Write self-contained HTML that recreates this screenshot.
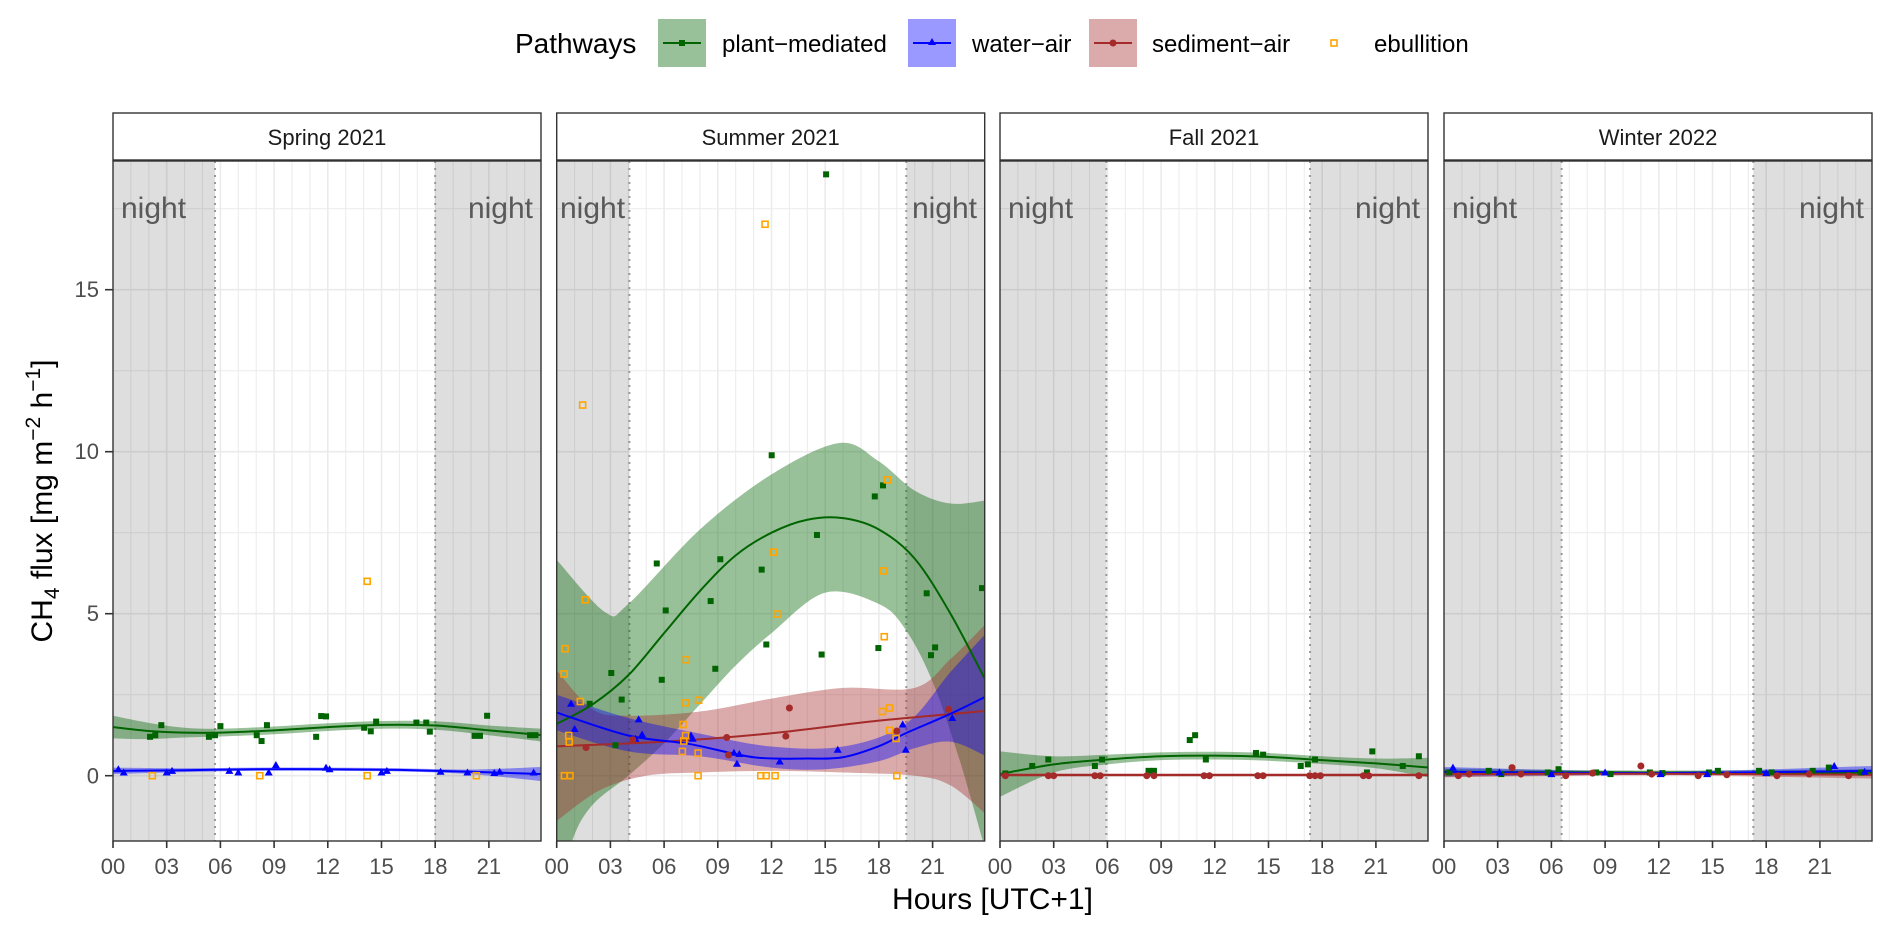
<!DOCTYPE html>
<html><head><meta charset="utf-8"><style>
html,body{margin:0;padding:0;background:#fff;}
svg{display:block;font-family:"Liberation Sans",Arial,sans-serif;}
</style></head><body>
<svg id="s" width="1892" height="934" viewBox="0 0 1892 934" xmlns="http://www.w3.org/2000/svg">
<defs>
<clipPath id="c0"><rect x="113" y="161" width="428" height="680"/></clipPath>
<clipPath id="c1"><rect x="556.7" y="161" width="428" height="680"/></clipPath>
<clipPath id="c2"><rect x="1000" y="161" width="428" height="680"/></clipPath>
<clipPath id="c3"><rect x="1444" y="161" width="428" height="680"/></clipPath>
</defs>
<g id="grid"></g>
<g id="data"></g>
<g id="frames"></g>
<!-- strips -->
<g font-size="22" fill="#1a1a1a" text-anchor="middle">
<text x="327" y="145">Spring 2021</text>
<text x="770.7" y="145">Summer 2021</text>
<text x="1214" y="145">Fall 2021</text>
<text x="1658" y="145">Winter 2022</text>
</g>
<g font-size="30" fill="#595959">
<text x="121" y="218">night</text><text x="533" y="218" text-anchor="end">night</text>
<text x="560" y="218">night</text><text x="977" y="218" text-anchor="end">night</text>
<text x="1008" y="218">night</text><text x="1420" y="218" text-anchor="end">night</text>
<text x="1452" y="218">night</text><text x="1864" y="218" text-anchor="end">night</text>
</g>
<!-- y tick labels -->
<g font-size="22" fill="#4d4d4d" text-anchor="end">
<text x="99" y="783.5">0</text><text x="99" y="621">5</text><text x="99" y="459">10</text><text x="99" y="297">15</text>
</g>
<g font-size="22" fill="#4d4d4d" text-anchor="middle" id="xl">
<text x="113" y="874">00</text><text x="166.7" y="874">03</text><text x="220.4" y="874">06</text><text x="274.1" y="874">09</text><text x="327.8" y="874">12</text><text x="381.5" y="874">15</text><text x="435.2" y="874">18</text><text x="488.9" y="874">21</text>
<text x="556.7" y="874">00</text><text x="610.4" y="874">03</text><text x="664.1" y="874">06</text><text x="717.8" y="874">09</text><text x="771.5" y="874">12</text><text x="825.2" y="874">15</text><text x="878.9" y="874">18</text><text x="932.6" y="874">21</text>
<text x="1000" y="874">00</text><text x="1053.7" y="874">03</text><text x="1107.4" y="874">06</text><text x="1161.1" y="874">09</text><text x="1214.8" y="874">12</text><text x="1268.5" y="874">15</text><text x="1322.2" y="874">18</text><text x="1375.9" y="874">21</text>
<text x="1444" y="874">00</text><text x="1497.7" y="874">03</text><text x="1551.4" y="874">06</text><text x="1605.1" y="874">09</text><text x="1658.8" y="874">12</text><text x="1712.5" y="874">15</text><text x="1766.2" y="874">18</text><text x="1819.9" y="874">21</text>
</g>
<text x="992.5" y="909" font-size="30" fill="#000" text-anchor="middle">Hours [UTC+1]</text>
<text transform="translate(52,501) rotate(-90)" font-size="30" fill="#000" text-anchor="middle">CH<tspan font-size="21" dy="7">4</tspan><tspan dy="-7"> flux [mg m</tspan><tspan font-size="21" dy="-12">−2</tspan><tspan dy="12"> h</tspan><tspan font-size="21" dy="-12">−1</tspan><tspan dy="12">]</tspan></text>
<!-- legend -->
<text x="515" y="53" font-size="28" fill="#000">Pathways</text>
<rect x="658" y="19" width="48" height="48" fill="#006400" fill-opacity="0.4"/>
<line x1="663" y1="43" x2="701" y2="43" stroke="#006400" stroke-width="2"/>
<rect x="679" y="40" width="6" height="6" fill="#006400"/>
<text x="722" y="52" font-size="24" fill="#000">plant−mediated</text>
<rect x="908" y="19" width="48" height="48" fill="#0000ff" fill-opacity="0.4"/>
<line x1="913" y1="43" x2="951" y2="43" stroke="#0000ff" stroke-width="2"/>
<polygon points="932,38 936,45 928,45" fill="#0000ff"/>
<text x="972" y="52" font-size="24" fill="#000">water−air</text>
<rect x="1089" y="19" width="48" height="48" fill="#a52a2a" fill-opacity="0.4"/>
<line x1="1094" y1="43" x2="1132" y2="43" stroke="#a52a2a" stroke-width="2"/>
<circle cx="1113" cy="43" r="3.5" fill="#a52a2a"/>
<text x="1152" y="52" font-size="24" fill="#000">sediment−air</text>
<rect x="1331" y="40" width="6" height="6" fill="none" stroke="#FFA500" stroke-width="1.6"/>
<text x="1374" y="52" font-size="24" fill="#000">ebullition</text>
</svg>
<script>
(function(){
var NS="http://www.w3.org/2000/svg";
var PL=[113,556.7,1000,1444],W=428,T=161,B=841,K=17.9;
var night=[[5.7,18.0],[4.06,19.53],[5.94,17.32],[6.57,17.28]];
function Y(v){return 775.7-v*32.4;}
function el(p,t,a){var e=document.createElementNS(NS,t);for(var k in a)e.setAttribute(k,a[k]);p.appendChild(e);return e;}
var grid=document.getElementById('grid'),data=document.getElementById('data'),fr=document.getElementById('frames');
for(var p=0;p<4;p++){
 var L=PL[p];
 el(grid,'rect',{x:L,y:T,width:W,height:B-T,fill:'#fff'});
 for(var h=1;h<24;h++){var x=L+h*K;el(grid,'line',{x1:x,y1:T,x2:x,y2:B,stroke:'#ebebeb','stroke-width':(h%3==0?1.6:1)});}
 [-0,2.5,5,7.5,10,12.5,15,17.5].forEach(function(v,i){var y=Y(v);el(grid,'line',{x1:L,y1:y,x2:L+W,y2:y,stroke:'#ebebeb','stroke-width':(v%5==0?1.6:1)});});
 var n=night[p];
 el(grid,'rect',{x:L,y:T,width:n[0]*K,height:B-T,fill:'#000','fill-opacity':0.13});
 el(grid,'rect',{x:L+n[1]*K,y:T,width:W-n[1]*K,height:B-T,fill:'#000','fill-opacity':0.13});
 n.forEach(function(h){var x=L+h*K;el(grid,'line',{x1:x,y1:T,x2:x,y2:B,stroke:'#999','stroke-width':2,'stroke-dasharray':'2,5'});});
 el(fr,'rect',{x:L,y:113,width:W,height:47,fill:'#fff',stroke:'#333','stroke-width':1.4});
 el(fr,'rect',{x:L,y:T,width:W,height:B-T,fill:'none',stroke:'#333','stroke-width':1.4});
 for(var h=0;h<24;h+=3){var x=L+h*K;el(fr,'line',{x1:x,y1:B,x2:x,y2:B+7,stroke:'#333','stroke-width':1.6});}
}
[0,5,10,15].forEach(function(v){el(fr,'line',{x1:105,y1:Y(v),x2:113,y2:Y(v),stroke:'#333','stroke-width':1.6});});

function pts(p,a){return a.map(function(q){return [PL[p]+q[0]*K,Y(q[1])];});}
function cr(P,move){var d=move?('M'+P[0][0]+','+P[0][1]):('L'+P[0][0]+','+P[0][1]);
 for(var i=0;i<P.length-1;i++){var p0=P[i-1]||P[i],p1=P[i],p2=P[i+1],p3=P[i+2]||P[i+1];
  d+='C'+(p1[0]+(p2[0]-p0[0])/6)+','+(p1[1]+(p2[1]-p0[1])/6)+' '+(p2[0]-(p3[0]-p1[0])/6)+','+(p2[1]-(p3[1]-p1[1])/6)+' '+p2[0]+','+p2[1];}
 return d;}
var COL={g:'#006400',b:'#0000ff',r:'#a52a2a'};
function band(p,c,up,lo){var g=el(data,'g',{'clip-path':'url(#c'+p+')'});
 var d=cr(pts(p,up),true)+cr(pts(p,lo.slice().reverse()),false)+'Z';
 el(g,'path',{d:d,fill:COL[c],'fill-opacity':0.4});}
function bandW(p,c,line,w){band(p,c,line.map(function(q,i){return [q[0],q[1]+w[i]];}),line.map(function(q,i){return [q[0],q[1]-w[i]];}));}
var lines=[];
function line(p,c,l){lines.push([p,c,l]);}
function drawLines(){lines.forEach(function(a){var g=el(data,'g',{'clip-path':'url(#c'+a[0]+')'});el(g,'path',{d:cr(pts(a[0],a[2]),true),fill:'none',stroke:COL[a[1]],'stroke-width':2});});}
function P(p,c,a){var g=el(data,'g',{'clip-path':'url(#c'+p+')'});
 a.forEach(function(q){var x=PL[p]+q[0]*K,y=Y(q[1]);
  if(c=='g')el(g,'rect',{x:x-3,y:y-3,width:6,height:6,fill:COL.g});
  else if(c=='b')el(g,'polygon',{points:(x)+','+(y-4)+' '+(x+4)+','+(y+3)+' '+(x-4)+','+(y+3),fill:COL.b});
  else if(c=='r')el(g,'circle',{cx:x,cy:y,r:3.5,fill:COL.r});
  else el(g,'rect',{x:x-3,y:y-3,width:6,height:6,fill:'none',stroke:'#FFA500','stroke-width':1.6});});}

/* Spring */
var sg=[[0,1.5],[2,1.38],[4,1.33],[6,1.33],[9,1.4],[12,1.5],[15,1.57],[18,1.55],[21,1.4],[24,1.25]];
bandW(0,'g',sg,[0.35,0.25,0.15,0.12,0.12,0.12,0.12,0.13,0.15,0.2]);
var sb=[[0,0.15],[4,0.17],[8,0.2],[12,0.2],[16,0.18],[20,0.12],[24,0.05]];
bandW(0,'b',sb,[0.1,0.06,0.05,0.05,0.05,0.07,0.22]);
line(0,'g',sg);line(0,'b',sb);
/* Summer */
band(1,'g',[[0,6.66],[2.7,5.05],[4,5.3],[8,7.6],[12,9.3],[15.8,10.27],[18,9.7],[20,8.8],[22,8.4],[24,8.5]],
 [[0,-4],[0.86,-2.02],[2,-0.9],[4,0.0],[6,1.0],[8,2.2],[10,3.4],[12,4.4],[15,5.65],[18,5.3],[19.5,4.5],[21,2.9],[22.5,0.5],[23.8,-2.0],[24,-2.4]]);
band(1,'r',[[0,3.25],[2,2.05],[4,1.85],[8,1.98],[12,2.38],[16,2.71],[20,2.71],[22,3.6],[24,4.7]],
 [[0,-1.4],[2.4,-0.45],[5,0.0],[8,0.1],[12,0.15],[16,0.1],[20,0.0],[22,-0.3],[24,-1.2]]);
band(1,'b',[[0,2.5],[4,1.78],[8,1.3],[12,0.9],[16,0.9],[19.5,1.6],[22,3.2],[24,4.4]],
 [[0,1.4],[4,0.75],[8,0.6],[12,0.25],[15,0.2],[18,0.45],[20,0.85],[22,1.05],[24,0.6]]);
line(1,'g',[[0,1.6],[2,2.2],[4,3.1],[6,4.4],[8,5.7],[10,6.8],[12,7.5],[14,7.9],[16,7.95],[18,7.6],[20,6.7],[22,5.0],[24,2.9]]);
line(1,'r',[[0,0.91],[6,1.05],[12,1.31],[18,1.7],[24,2.0]]);
line(1,'b',[[0,1.95],[4,1.24],[7.4,0.98],[11,0.57],[14,0.53],[16,0.57],[18,0.91],[19.5,1.31],[22,1.91],[24,2.45]]);
/* Fall */
var fg=[[0,0.05],[3,0.35],[6,0.5],[9,0.6],[12,0.62],[15,0.58],[18,0.48],[21,0.38],[24,0.25]];
bandW(2,'g',fg,[0.7,0.25,0.15,0.12,0.12,0.12,0.12,0.15,0.3]);
var fr2=[[0,0.02],[24,0.02]];bandW(2,'r',fr2,[0.05,0.05]);
line(2,'g',fg);line(2,'r',fr2);
/* Winter */
var wg=[[0,0.12],[12,0.1],[24,0.1]],wb=[[0,0.12],[12,0.08],[24,0.15]],wr=[[0,0.05],[12,0.06],[24,0.03]];
bandW(3,'g',wg,[0.1,0.06,0.1]);bandW(3,'b',wb,[0.15,0.05,0.15]);bandW(3,'r',wr,[0.1,0.05,0.12]);
line(3,'g',wg);line(3,'b',wb);line(3,'r',wr);
drawLines();

/* points */
P(0,'g',[[2.07,1.2],[2.36,1.25],[2.7,1.56],[5.36,1.2],[5.7,1.25],[6.0,1.53],[8.03,1.25],[8.3,1.07],[8.6,1.56],[11.35,1.2],[11.63,1.84],[11.9,1.83],[14.03,1.48],[14.4,1.37],[14.7,1.67],[16.95,1.64],[17.5,1.64],[17.7,1.36],[20.2,1.23],[20.5,1.23],[20.9,1.85],[23.3,1.25],[23.6,1.25]]);
P(0,'b',[[0.3,0.2],[0.6,0.1],[3,0.1],[3.3,0.15],[6.5,0.15],[7,0.1],[8.7,0.1],[9.1,0.33],[11.9,0.25],[12.1,0.2],[15,0.1],[15.3,0.15],[18.3,0.12],[19.8,0.1],[21.3,0.08],[21.6,0.12],[23.5,0.1]]);
P(0,'o',[[14.2,6.0],[2.2,0],[8.2,0],[14.2,0],[20.3,0]]);
P(1,'g',[[15.05,18.56],[12.01,9.89],[18.23,8.96],[17.77,8.62],[14.54,7.43],[9.14,6.68],[5.59,6.55],[11.45,6.36],[20.67,5.63],[23.76,5.79],[8.6,5.39],[6.09,5.1],[11.71,4.05],[14.8,3.74],[17.97,3.94],[21.14,3.96],[20.91,3.72],[8.86,3.3],[3.05,3.17],[5.87,2.96],[3.63,2.35],[1.84,2.22],[3.28,0.94]]);
P(1,'b',[[0.8,2.22],[1.0,1.44],[4.58,1.74],[4.77,1.27],[4.4,1.14],[7.5,1.24],[7.6,1.14],[9.9,0.71],[10.07,0.37],[10.2,0.67],[12.46,0.44],[15.7,0.8],[19.33,1.58],[19.5,0.8],[22.1,1.78]]);
P(1,'r',[[1.64,0.87],[4.25,1.11],[9.5,1.18],[9.6,0.64],[12.8,1.22],[13.0,2.09],[19.0,1.38],[21.9,2.05]]);
P(1,'o',[[11.64,17.02],[1.45,11.44],[1.6,5.43],[0.47,3.92],[0.41,3.14],[1.32,2.29],[0.67,1.24],[0.7,1.04],[0.43,0],[0.74,0],[7.24,3.58],[7.22,2.25],[7.93,2.33],[7.06,1.58],[7.2,1.24],[7.1,1.07],[7.02,0.75],[7.9,0.7],[7.9,0],[11.4,0],[11.7,0],[12.2,0],[12.1,6.9],[12.3,4.99],[18.47,9.13],[18.27,6.32],[18.3,4.29],[18.2,1.98],[18.6,2.09],[18.6,1.4],[18.96,1.15],[19.0,0]]);
P(2,'g',[[0.3,0.07],[1.8,0.3],[2.7,0.5],[5.3,0.3],[5.7,0.5],[8.3,0.15],[8.6,0.15],[10.6,1.1],[10.9,1.25],[11.5,0.5],[14.3,0.7],[14.7,0.65],[16.8,0.3],[17.2,0.35],[17.6,0.5],[20.5,0.1],[20.8,0.75],[22.5,0.3],[23.4,0.6]]);
P(2,'r',[[0.3,0],[2.7,0],[3.0,0],[5.3,0],[5.6,0],[8.2,0],[8.6,0],[11.4,0],[11.7,0],[14.4,0],[14.7,0],[17.3,0],[17.6,0],[17.9,0],[20.3,0],[20.6,0],[23.4,0]]);
P(3,'g',[[0.3,0.1],[2.5,0.15],[3.2,0.05],[5.8,0.1],[6.4,0.2],[8.5,0.1],[9.3,0.05],[11.5,0.1],[12.2,0.08],[14.8,0.1],[15.3,0.15],[17.6,0.15],[18.3,0.1],[20.6,0.15],[21.5,0.25],[23.3,0.1]]);
P(3,'b',[[0.5,0.25],[3.1,0.1],[6.0,0.05],[9.0,0.1],[12.1,0.05],[14.7,0.05],[18.0,0.08],[21.8,0.3],[23.5,0.12]]);
P(3,'r',[[0.8,0.0],[1.4,0.05],[3.8,0.25],[4.3,0.05],[6.8,0.0],[8.3,0.08],[11.0,0.3],[11.6,0.05],[14.2,0.0],[15.8,0.03],[18.6,0.0],[20.4,0.05],[22.6,0.0]]);
})();
</script>
</body></html>
